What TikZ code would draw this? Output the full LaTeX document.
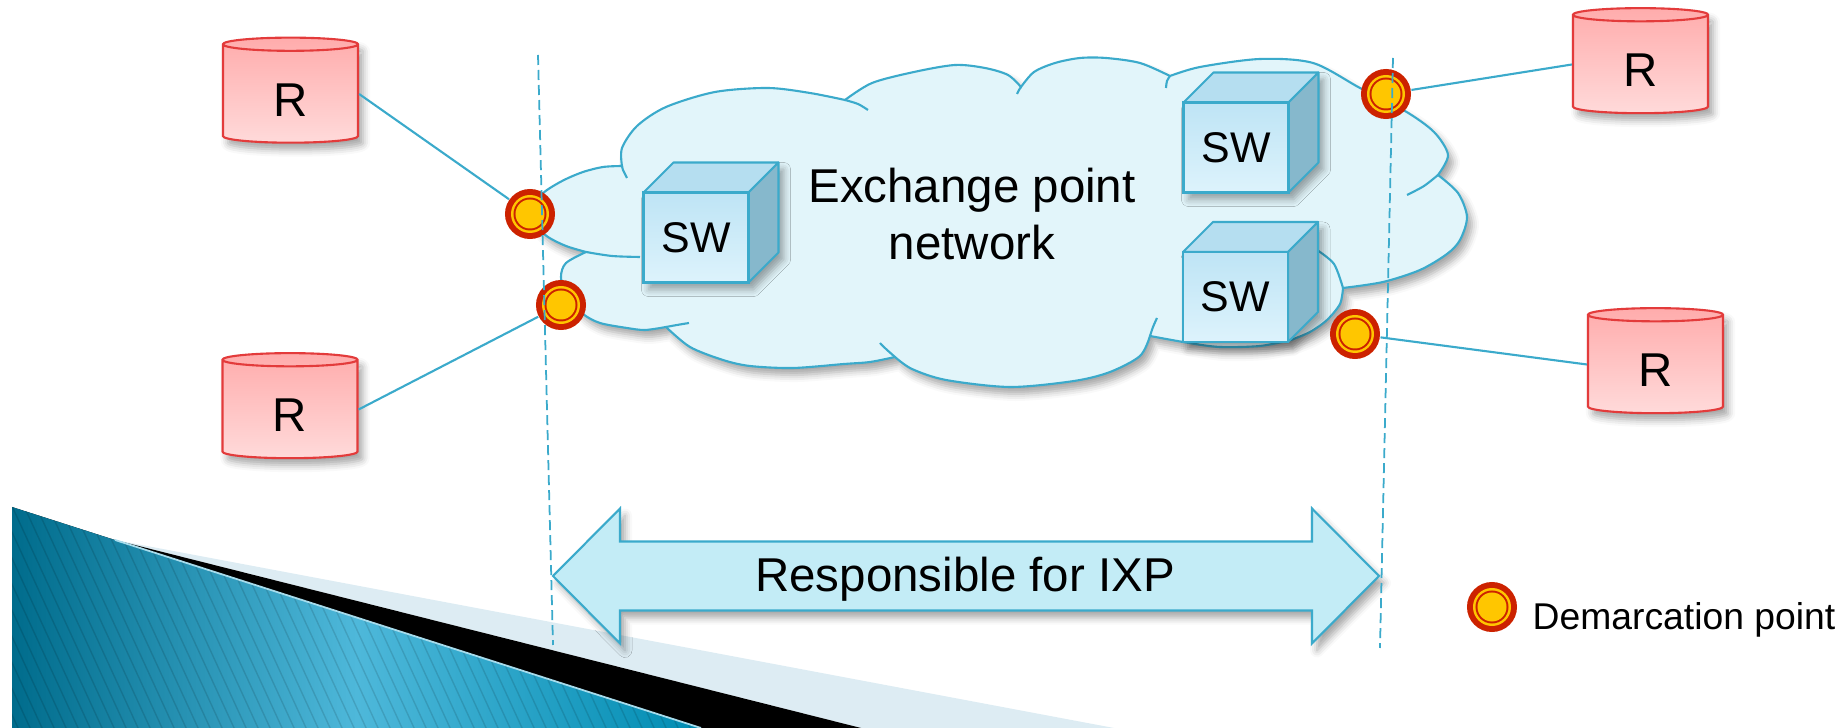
\documentclass[tikz,border=0pt]{standalone}
\usepackage{fontspec}
\setmainfont{Liberation Sans}
\usetikzlibrary{shapes.geometric,shadows.blur,calc}

\definecolor{ixline}{RGB}{59,170,203}
\definecolor{cloudfill}{RGB}{226,245,250}
\definecolor{arrowfill}{RGB}{195,236,246}
\definecolor{swfronttop}{RGB}{190,228,245}
\definecolor{swfrontbot}{RGB}{221,243,252}
\definecolor{swtop}{RGB}{181,222,240}
\definecolor{swside}{RGB}{134,184,204}
\definecolor{cylred}{RGB}{227,59,59}
\definecolor{cyltop}{RGB}{255,172,172}
\definecolor{cylbot}{RGB}{255,218,218}
\definecolor{dmred}{RGB}{204,34,0}
\definecolor{dmyellow}{RGB}{255,198,0}
\definecolor{bandblue}{RGB}{221,236,243}
\definecolor{tealdark}{RGB}{0,108,140}
\definecolor{teallight}{RGB}{78,184,218}
\definecolor{tealmid}{RGB}{0,140,178}

\tikzset{
  softshadow/.style={blur shadow={shadow xshift=0.05cm, shadow yshift=-0.07cm, shadow blur radius=0.07cm, shadow opacity=35}},
  cyl/.style={cylinder, shape border rotate=90, aspect=0.385, minimum height=1.05cm, minimum width=1.35cm,
    inner sep=0pt, draw=cylred, line width=0.6pt, top color=cyltop, bottom color=cylbot,
    font=\fontsize{13.5}{16}\selectfont, softshadow},
  swface/.style={rectangle, minimum width=1.05cm, minimum height=0.9cm, inner sep=0pt, draw=ixline,
    line width=0.6pt, top color=swfronttop, bottom color=swfrontbot, font=\fontsize{12.2}{14}\selectfont},
  cubeedge/.style={draw=ixline, line width=0.6pt, line join=round},
  swcube/.pic={
    \path[fill=swtop, softshadow] (-52.5,45) -- (-52.5,-45) -- (-22.5,-75) -- (82.5,-75) -- (82.5,15) -- (52.5,45) -- cycle;
    \draw[cubeedge, fill=swtop] (-52.5,-45) -- (-22.5,-75) -- (82.5,-75) -- (52.5,-45) -- cycle;
    \draw[cubeedge, fill=swside] (52.5,-45) -- (82.5,-75) -- (82.5,15) -- (52.5,45) -- cycle;
    \node[swface] (-face) at (0,0) {SW};
  },
  demarc/.style={circle, fill=dmred, minimum size=0.5cm, inner sep=0pt,
    path picture={
      \fill[dmyellow] (path picture bounding box.center) circle (0.19cm);
      \fill[dmred] (path picture bounding box.center) circle (0.165cm);
      \fill[dmyellow] (path picture bounding box.center) circle (0.145cm);
    }},
  link/.style={draw=ixline, line width=0.6pt},
  bound/.style={draw=ixline, line width=0.5pt, dash pattern=on 0.1cm off 0.05cm},
  tail/.style={draw=ixline, line width=0.6pt},
  lbl/.style={inner sep=0pt, font=\fontsize{13.5}{16}\selectfont},
}

\begin{document}
\begin{tikzpicture}[x=0.01cm, y=-0.01cm]
\useasboundingbox (0,0) rectangle (1847,728);

% corner decoration
\fill[bandblue] (115,540) -- (1114,728) -- (861,728) -- cycle;
\fill[black] (115,540) -- (861,728) -- (701,728) -- cycle;
\fill[left color=tealdark, right color=tealmid, middle color=teallight] (12,507) -- (701,728) -- (12,728) -- cycle;
\begin{scope}
  \clip (12,507) -- (701,728) -- (12,728) -- cycle;
  \foreach \k in {-25,...,60}
    \draw[black, opacity=0.12, line width=0.4pt] (\k*12,480) -- ++(115,250);
\end{scope}
\draw[teallight!50!white, line width=0.5pt] (115,540) -- (701,728);

% cloud
\path[fill=cloudfill, draw=ixline, line width=0.6pt, softshadow]
  plot[smooth] coordinates {(586,252) (566,246) (548,237) (535,225) (531,212) (536,200) (547,190) (564,180) (583,172) (603,167) (622,166)}
  -- plot[smooth] coordinates {(622,166) (622,148) (637,126) (666,107) (715,92) (768,88) (810,93) (845,100)}
  -- plot[smooth] coordinates {(845,100) (872,83) (914,72) (955,65) (985,68) (1008,75) (1021,87)}
  -- plot[smooth] coordinates {(1021,87) (1034,72) (1055,63) (1080,58) (1106,58) (1140,63) (1170,76)}
  -- plot[smooth] coordinates {(1170,76) (1200,67) (1260,59) (1313,63) (1360,88) (1405,111) (1434,132) (1448,155) (1438,175)}
  -- plot[smooth] coordinates {(1438,175) (1458,193) (1467,217) (1460,240) (1447,254) (1420,270) (1383,282) (1343,288)}
  -- plot[smooth] coordinates {(1343,288) (1340,304) (1327,320) (1310,332) (1291,340)}
  -- plot[smooth] coordinates {(1291,340) (1260,346) (1220,347) (1189,343) (1150,336)}
  -- plot[smooth] coordinates {(1150,336) (1140,356) (1110,372) (1074,381) (1010,387) (946,380) (912,369) (895,357)}
  -- plot[smooth] coordinates {(895,357) (870,362) (844,364) (793,368) (750,366) (723,360) (690,347) (666,327)}
  -- plot[smooth] coordinates {(666,327) (645,330) (627,328) (600,323) (583,314) (567,297) (561,277) (566,263) (586,252)}
  -- cycle;
\draw[tail] plot[smooth] coordinates {(627,178) (623,170) (622,166)};
\draw[tail] plot[smooth] coordinates {(845,100) (858,104) (868,110)};
\draw[tail] plot[smooth] coordinates {(1017,94) (1019,90) (1021,87)};
\draw[tail] plot[smooth] coordinates {(1166,88) (1167,81) (1170,76)};
\draw[tail] plot[smooth] coordinates {(1438,175) (1424,186) (1407,195)};
\draw[tail] plot[smooth] coordinates {(1317,250) (1334,264) (1343,288)};
\draw[tail] plot[smooth] coordinates {(1157,318) (1153,327) (1150,336)};
\draw[tail] plot[smooth] coordinates {(895,357) (886,349) (880,343)};
\draw[tail] plot[smooth] coordinates {(666,327) (677,325) (689,323)};
\draw[tail] plot[smooth] coordinates {(586,252) (612,256) (640,257)};

% switches
\pic (sw1) at (696,237.5) {swcube};
\pic (sw2) at (1236,147.5) {swcube};
\pic (sw3) at (1235.5,297) {swcube};
\node[lbl, align=center] (ixp) at (972,214) {Exchange point\\network};

% routers
\node[cyl] (rtl) at (290.5,94) {\raisebox{-0.06cm}[\height][\depth]{R}};
\node[cyl] (rbl) at (290,409.5) {\raisebox{-0.06cm}[\height][\depth]{R}};
\node[cyl] (rtr) at (1640.5,64.5) {\raisebox{-0.06cm}[\height][\depth]{R}};
\node[cyl] (rbr) at (1655.5,364.5) {\raisebox{-0.06cm}[\height][\depth]{R}};

% demarcation points
\node[demarc] (d1) at (530,214) {};
\node[demarc] (d2) at (561,305) {};
\node[demarc] (d3) at (1386,94) {};
\node[demarc] (d4) at (1355,334) {};
\draw[link] (rtl.east) -- (d1);
\draw[link] (rbl.east) -- (d2);
\draw[link] (rtr.west) -- (d3);
\draw[link] (rbr.west) -- (d4);

% responsibility arrow
\path[fill=arrowfill, draw=ixline, line width=0.6pt, line join=miter, softshadow]
  (553,576) -- (620,508.5) -- (620,541.5) -- (1312,541.5) -- (1312,508.5) -- (1379,576)
  -- (1312,643.5) -- (1312,610.5) -- (620,610.5) -- (620,643.5) -- cycle;
\node[lbl, anchor=base] (resp) at (965,591.5) {Responsible for IXP};

% boundaries
\coordinate (bl1) at (538,55);
\coordinate (bl2) at (553,645);
\coordinate (br1) at (1393,58);
\coordinate (br2) at (1380,648);
\draw[bound] (bl1) -- (bl2);
\draw[bound] (br1) -- (br2);

% legend
\node[demarc] (dleg) at (1492,607) {};
\node[inner sep=0pt, anchor=base west, font=\fontsize{10.6}{13}\selectfont] (legtxt) at (1532,630) {Demarcation point};
\end{tikzpicture}
\end{document}
